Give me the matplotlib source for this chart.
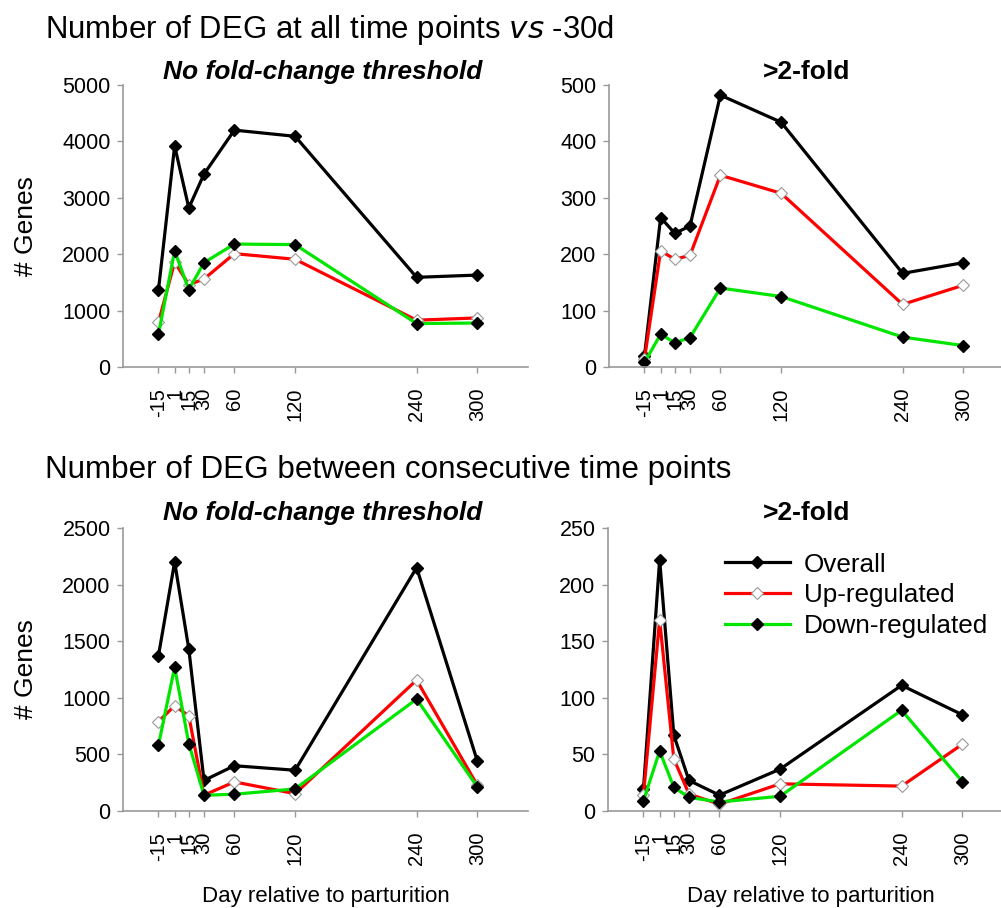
import matplotlib
matplotlib.use("Agg")
import matplotlib.pyplot as plt

plt.rcParams['font.family'] = ['Liberation Sans', 'DejaVu Sans']

days = [-15, 1, 15, 30, 60, 120, 240, 300]
day_labels = ['-15', '1', '15', '30', '60', '120', '240', '300']

# DEG vs -30d, no fold-change threshold
all_overall = [1360, 3920, 2820, 3420, 4200, 4090, 1590, 1630]
all_up = [790, 1860, 1460, 1560, 2010, 1910, 830, 870]
all_down = [580, 2060, 1370, 1850, 2180, 2170, 770, 780]

# DEG vs -30d, >2-fold
all2_overall = [19, 265, 237, 250, 482, 434, 166, 185]
all2_up = [14, 206, 191, 198, 340, 308, 111, 145]
all2_down = [8, 58, 43, 52, 140, 125, 53, 38]

# DEG between consecutive time points, no threshold
con_overall = [1370, 2200, 1430, 270, 400, 360, 2150, 440]
con_up = [790, 930, 840, 140, 257, 153, 1157, 227]
con_down = [580, 1270, 596, 139, 148, 195, 989, 212]

# DEG between consecutive time points, >2-fold
con2_overall = [19, 222, 67, 27, 14, 37, 111, 85]
con2_up = [14, 169, 46, 15, 6, 24, 22, 59]
con2_down = [9, 53, 21, 12, 8, 13, 89, 26]

W, H = 1001, 908
fig = plt.figure(figsize=(W / 100, H / 100), dpi=100)


def px_axes(left, top, width, height):
    return fig.add_axes([left / W, 1 - (top + height) / H, width / W, height / H])


def draw(ax, overall, up, down, ymax, ystep, xlabel=False):
    ax.plot(days, overall, color='black', lw=2.3, marker='D', ms=6.5,
            mfc='black', mec='black', label='Overall')
    ax.plot(days, up, color='#ff0000', lw=2.3, marker='D', ms=6.5,
            mfc='white', mec='#999999', mew=0.8, label='Up-regulated')
    ax.plot(days, down, color='#00e600', lw=2.3, marker='D', ms=6.5,
            mfc='black', mec='black', label='Down-regulated')
    ax.set_xlim(-50, 350)
    ax.set_ylim(0, ymax)
    ax.set_yticks(range(0, ymax + 1, ystep))
    ax.set_xticks(days)
    ax.set_xticklabels(day_labels, rotation=90)
    for s in ['top', 'right']:
        ax.spines[s].set_visible(False)
    for s in ['left', 'bottom']:
        ax.spines[s].set_color('#999999')
        ax.spines[s].set_linewidth(1.2)
    ax.tick_params(axis='both', direction='out', length=4, width=1,
                   color='#999999', pad=5)
    ax.tick_params(axis='y', labelsize=15.5)
    ax.tick_params(axis='x', labelsize=14.5, pad=11)
    if xlabel:
        ax.set_xlabel('Day relative to parturition', fontsize=16, va='top')
        ax.xaxis.set_label_coords(0.5, -0.265)


ax1 = px_axes(123, 85, 405, 282)
ax2 = px_axes(609, 85, 405, 282)
ax3 = px_axes(123, 528, 405, 283)
ax4 = px_axes(608, 528, 405, 283)

draw(ax1, all_overall, all_up, all_down, 5000, 1000)
draw(ax2, all2_overall, all2_up, all2_down, 500, 100)
draw(ax3, con_overall, con_up, con_down, 2500, 500, xlabel=True)
draw(ax4, con2_overall, con2_up, con2_down, 250, 50, xlabel=True)

for ax in (ax1, ax3):
    ax.set_ylabel('# Genes', fontsize=19)
    ax.yaxis.set_label_coords(-0.21, 0.5)

fig.text(45 / W, 1 - 38 / H, 'Number of DEG at all time points $\\it{vs}$ -30d',
         fontsize=22.4, ha='left', va='baseline')
fig.text(45 / W, 1 - 478 / H, 'Number of DEG between consecutive time points',
         fontsize=22.6, ha='left', va='baseline')

for y in (79, 520):
    fig.text(323 / W, 1 - y / H, 'No fold-change threshold', fontsize=19,
             fontweight='bold', fontstyle='italic', ha='center', va='baseline')
    fig.text(807 / W, 1 - y / H, '>2-fold', fontsize=19,
             fontweight='bold', ha='center', va='baseline')

ax4.legend(loc='upper left', bbox_to_anchor=(0.262, 0.95), frameon=False,
           fontsize=18.8, handlelength=2.5, handletextpad=0.55,
           labelspacing=0.25, markerscale=1.0, borderaxespad=0)

fig.savefig('out.png', dpi=100)
